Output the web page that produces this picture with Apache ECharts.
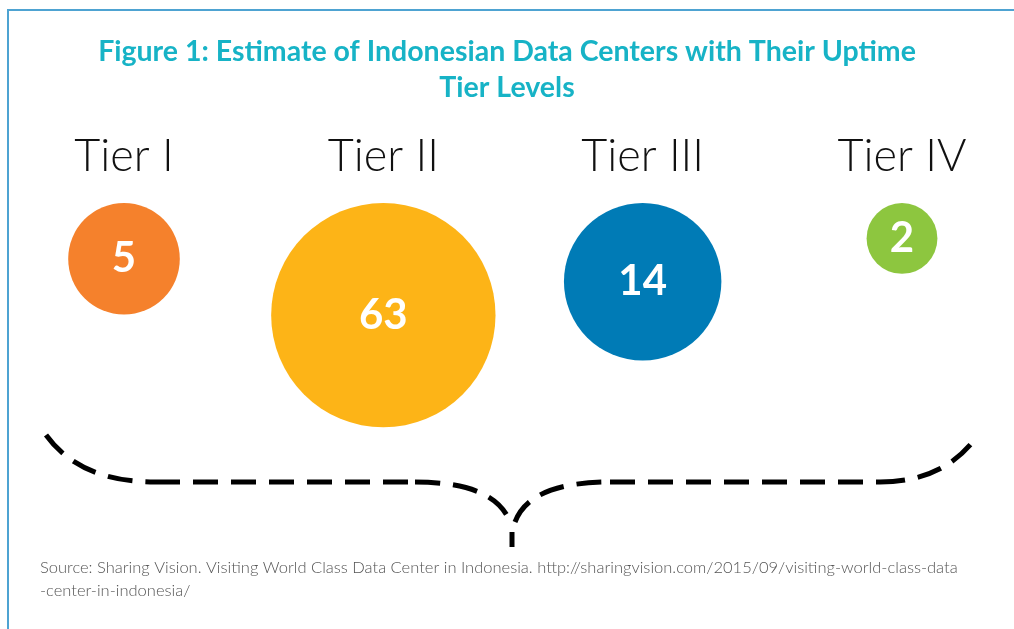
<!DOCTYPE html>
<html>
<head>
  <meta charset="UTF-8">
  <script src="https://cdn.jsdelivr.net/npm/echarts@6/dist/echarts.min.js"></script>
  <style>
    html, body { margin: 0; padding: 0; background: #fff; }
    #chart { width: 1014px; height: 629px; }
  </style>
</head>
<body>
  <div id="chart"></div>
  <script>
    // data
    var tiers = ['Tier I', 'Tier II', 'Tier III', 'Tier IV'];
    var centers = [5, 63, 14, 2];
    var colors = ['#f5812c', '#fdb417', '#007bb6', '#8dc63f'];

    var titleText = 'Figure 1: Estimate of Indonesian Data Centers with Their Uptime\nTier Levels';
    var sourceText = 'Source: Sharing Vision. Visiting World Class Data Center in Indonesia. http://sharingvision.com/2015/09/visiting-world-class-data\n-center-in-indonesia/';

    // bubble diameter grows with the log of the count
    function bubbleSize(v) {
      return 40 + 44.5 * Math.log(v);
    }

    var myChart = echarts.init(document.getElementById('chart'));

    // dashed brace under the bubbles
    var dash = { fill: null, stroke: '#000', lineWidth: 5, lineDash: [25, 13] };
    var brace = [
      { type: 'bezierCurve', shape: { x1: 46, y1: 435, cpx1: 80, cpy1: 482, x2: 155, y2: 482 }, style: dash },
      { type: 'line', shape: { x1: 155, y1: 482, x2: 415, y2: 482 }, style: dash },
      { type: 'bezierCurve', shape: { x1: 415, y1: 482, cpx1: 495, cpy1: 482, x2: 510, y2: 522 }, style: dash },
      { type: 'bezierCurve', shape: { x1: 515, y1: 522, cpx1: 530, cpy1: 482, x2: 610, y2: 482 }, style: dash },
      { type: 'line', shape: { x1: 610, y1: 482, x2: 880, y2: 482 }, style: dash },
      { type: 'bezierCurve', shape: { x1: 880, y1: 482, cpx1: 945, cpy1: 482, x2: 978, y2: 435 }, style: dash },
      { type: 'line', shape: { x1: 512, y1: 532, x2: 512, y2: 547 }, style: { stroke: '#000', lineWidth: 5 } }
    ];

    myChart.setOption({
      animation: false,
      backgroundColor: '#fff',
      title: [
        {
          text: titleText,
          left: 'center',
          top: 29,
          textStyle: {
            fontFamily: 'Lato',
            fontSize: 28.5,
            fontWeight: 'bold',
            color: '#17b3c6',
            lineHeight: 36,
            align: 'center'
          }
        },
        {
          text: sourceText,
          left: 35,
          top: 551,
          textStyle: {
            fontFamily: 'Lato',
            fontSize: 16.5,
            fontWeight: 300,
            color: '#555',
            lineHeight: 23
          }
        }
      ],
      grid: { left: 124, right: 112, top: 203, bottom: 120 },
      xAxis: {
        type: 'category',
        position: 'top',
        boundaryGap: false,
        data: tiers,
        axisLine: { show: false },
        axisTick: { show: false },
        splitLine: { show: false },
        axisLabel: {
          margin: 24,
          fontFamily: 'Lato',
          fontSize: 45,
          fontWeight: 300,
          color: '#111'
        }
      },
      yAxis: {
        type: 'value',
        min: 0,
        max: 1,
        inverse: true,
        show: false
      },
      series: [{
        type: 'scatter',
        clip: false,
        data: tiers.map(function (t, i) {
          var d = bubbleSize(centers[i]);
          return {
            value: [t, 0, centers[i]],
            symbolSize: d,
            symbolOffset: [0, d / 2],
            itemStyle: { color: colors[i], opacity: 1 }
          };
        }),
        label: {
          show: true,
          position: 'inside',
          formatter: function (p) { return p.value[2]; },
          fontFamily: 'Lato',
          fontSize: 42,
          fontWeight: 'bold',
          color: '#fff'
        },
        emphasis: { disabled: true }
      }],
      graphic: [
        {
          // frame
          type: 'polyline',
          shape: { points: [[8, 629], [8, 10], [1014, 10]] },
          style: { fill: null, stroke: '#4ea3d2', lineWidth: 2 }
        }
      ].concat(brace)
    });
  </script>
</body>
</html>
